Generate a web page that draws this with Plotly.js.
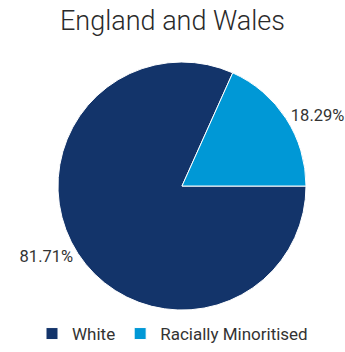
<!DOCTYPE html>
<html>
<head>
<meta charset="utf-8">
<script src="https://cdn.plot.ly/plotly-3.0.1.min.js"></script>
<style>html,body{margin:0;padding:0;background:#fff;}#chart{width:345px;height:352px;}</style>
</head>
<body>
<div id="chart"></div>
<script>
const categories = ["White", "Racially Minoritised"];
const values = [81.71, 18.29];
const labelsText = ["81.71%", "18.29%"];
const colors = ["#13346a", "#0098d6"];

const data = [{
  type: "pie",
  labels: categories,
  values: values,
  text: labelsText,
  textinfo: "text",
  textposition: "outside",
  hoverinfo: "label+percent",
  sort: false,
  direction: "clockwise",
  rotation: 90,
  marker: {colors: colors, line: {color: "#ffffff", width: 1}},
  outsidetextfont: {family: "Roboto", size: 16.5, color: "#333333"},
  automargin: false,
  domain: {x: [0.168, 0.887], y: [0.119, 0.824]}
}];

const layout = {
  width: 345,
  height: 352,
  margin: {l: 0, r: 0, t: 0, b: 0},
  paper_bgcolor: "#ffffff",
  plot_bgcolor: "#ffffff",
  font: {family: "Roboto", color: "#333333"},
  title: {text: "England and Wales", font: {family: "Roboto", size: 27, color: "#2a2a2a", weight: 300}, x: 0.5, xanchor: "center", y: 0.968, yanchor: "top"},
  showlegend: true,
  legend: {orientation: "h", x: 0.5, xanchor: "center", y: 0, yanchor: "bottom", itemwidth: 30, font: {family: "Roboto", size: 17, color: "#333333"}}
};

Plotly.newPlot("chart", data, layout, {displayModeBar: false, staticPlot: true});
</script>
</body>
</html>
